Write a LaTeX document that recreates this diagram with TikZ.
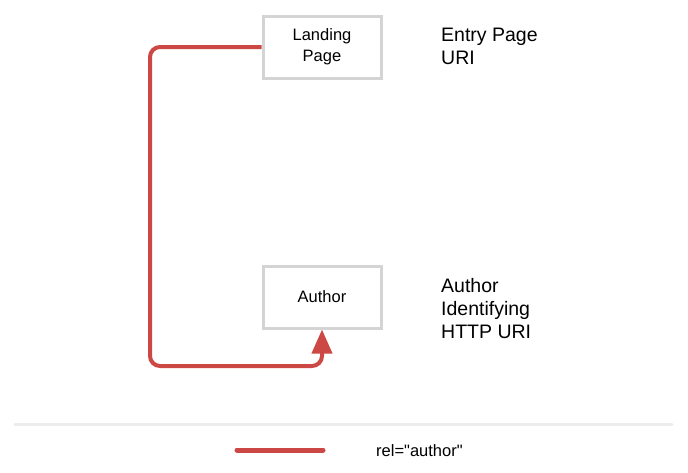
\documentclass[tikz,border=0pt]{standalone}
\usepackage{fontspec}
\setmainfont{Liberation Sans}[Ligatures=TeXOff]
\usetikzlibrary{arrows.meta,positioning}
\definecolor{relred}{RGB}{204,72,68}
\definecolor{boxgray}{RGB}{212,212,212}
\definecolor{rulegray}{RGB}{236,236,236}
\begin{document}
\begin{tikzpicture}[
    x=1pt, y=-1pt,
    every node/.style={font=\fontsize{16.5}{21}\selectfont},
    page/.style={
        draw=boxgray, line width=3pt,
        minimum width=118pt, minimum height=62pt,
        align=center, fill=white
    },
    rel/.style={draw=relred, line width=4pt, rounded corners=10pt},
    desc/.style={
        font=\fontsize{19.5}{23}\selectfont, align=left,
        anchor=north west, inner sep=0pt
    }
]
\useasboundingbox (0,0) rectangle (688,472);

% Seiten
\node[page] (landing) at (322, 47) {Landing\\Page};
\node[page] (author)  at (322, 297) {Author};

% Beschreibungen
\node[desc] (entrylbl)  at (441, 28) {Entry Page\\URI};
\node[desc] (authorlbl) at (441, 278) {Author\\Identifying\\HTTP URI};

% rel="author" Verbindung
\coordinate (c1) at (150, 47);
\coordinate (c2) at (150, 366);
\coordinate (c3) at (322, 366);
\draw[rel, -{Triangle[width=20pt, length=24pt]}]
    (landing.west) -- (c1) -- (c2) -- (c3) -- (author.south);

% Trennlinie
\coordinate (r1) at (15, 424);
\coordinate (r2) at (672, 424);
\draw[draw=rulegray, line width=3pt, line cap=round] (r1) -- (r2);

% Legende
\coordinate (l1) at (237, 450);
\coordinate (l2) at (323, 450);
\draw[draw=relred, line width=5pt, line cap=round] (l1) -- (l2);
\node[font=\fontsize{16.5}{18}\selectfont, anchor=west, inner sep=0pt]
    (legend) at (376, 451) {rel="author"};

\end{tikzpicture}
\end{document}
